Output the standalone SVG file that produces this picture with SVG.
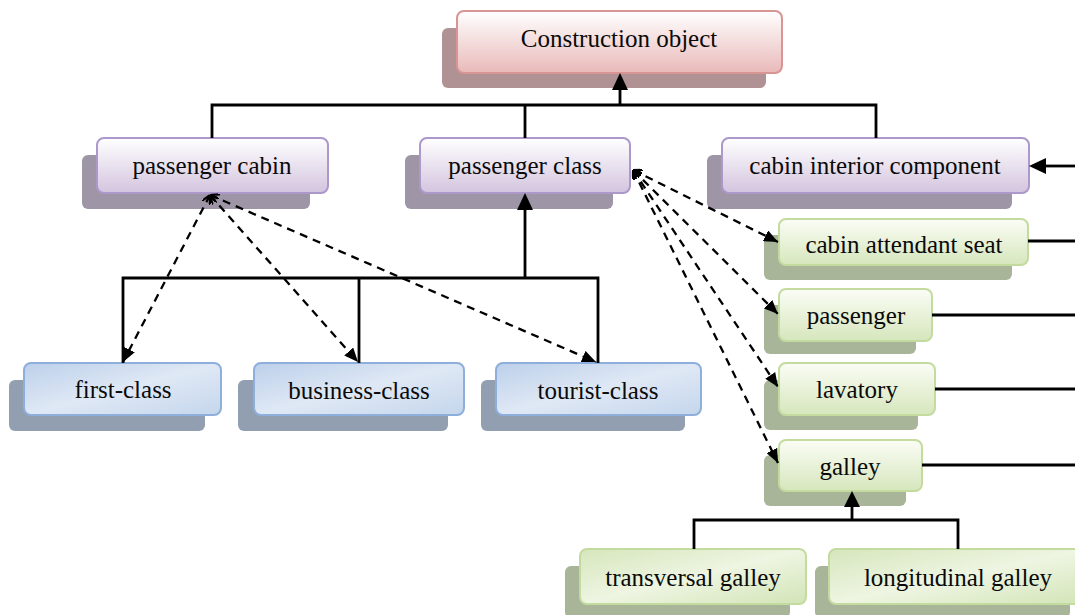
<svg xmlns="http://www.w3.org/2000/svg" width="1075" height="615" viewBox="0 0 1075 615">
  <defs>
    <linearGradient id="gPink" x1="0" y1="0" x2="0" y2="1">
      <stop offset="0" stop-color="#ffffff"/>
      <stop offset="1" stop-color="#e9b9b9"/>
    </linearGradient>
    <linearGradient id="gPurple" x1="0" y1="0" x2="0" y2="1">
      <stop offset="0" stop-color="#ffffff"/>
      <stop offset="1" stop-color="#d3c4de"/>
    </linearGradient>
    <linearGradient id="gBlue" x1="0" y1="0" x2="1" y2="1">
      <stop offset="0" stop-color="#bcd0ea"/>
      <stop offset="0.5" stop-color="#dfe8f5"/>
      <stop offset="1" stop-color="#c4d6ec"/>
    </linearGradient>
    <linearGradient id="gGreen" x1="0" y1="0" x2="0" y2="1">
      <stop offset="0" stop-color="#fbfdf6"/>
      <stop offset="1" stop-color="#d6e6bc"/>
    </linearGradient>
    <linearGradient id="gGreenD" x1="0" y1="0" x2="1" y2="1">
      <stop offset="0" stop-color="#d6e6bc"/>
      <stop offset="0.5" stop-color="#eef5e2"/>
      <stop offset="1" stop-color="#d2e4b6"/>
    </linearGradient>
    <!-- filled head for the dashed links -->
    <marker id="arrD" viewBox="0 0 14 12" refX="14" refY="6" markerWidth="14" markerHeight="12" markerUnits="userSpaceOnUse" orient="auto">
      <path d="M0,0 L14,6 L0,12 Z" fill="#000"/>
    </marker>
    <marker id="tail" viewBox="0 0 10 10" refX="0" refY="5" markerWidth="9" markerHeight="9" markerUnits="userSpaceOnUse" orient="auto">
      <path d="M10,0 L0,5 L10,10" fill="none" stroke="#000" stroke-width="2.5"/>
    </marker>
  </defs>
  <style>
    .pinkS { fill: #b09294; }
    .purS { fill: #9e96a6; }
    .bluS { fill: #929fb0; }
    .grnS { fill: #a8b598; }
    .pink { fill: url(#gPink); stroke: #d99494; stroke-width: 2; }
    .pur { fill: url(#gPurple); stroke: #ad98cb; stroke-width: 2; }
    .blu { fill: url(#gBlue); stroke: #8eaedb; stroke-width: 2; }
    .grn { fill: url(#gGreen); stroke: #c4dba0; stroke-width: 2; }
    .grnD { fill: url(#gGreenD); stroke: #c4dba0; stroke-width: 2; }
    .lbl { font-family: "Liberation Serif", "Times New Roman", serif; font-size: 25px; fill: #0a0a0a; text-anchor: middle; }
    .solid { fill: none; stroke: #000; stroke-width: 2.8; }
    .dash { fill: none; stroke: #000; stroke-width: 2.3; stroke-dasharray: 8 6; }
    .head { fill: #000; }
  </style>

  <g id="construction-object">
    <rect class="pinkS" x="442" y="28" width="324" height="60" rx="6"/>
    <rect class="pink" x="457" y="11" width="325" height="62" rx="7"/>
    <text class="lbl" x="619" y="47">Construction object</text>
  </g>

  <g id="passenger-cabin">
    <rect class="purS" x="82" y="155" width="228" height="54" rx="6"/>
    <rect class="pur" x="97" y="138" width="231" height="55" rx="7"/>
    <text class="lbl" x="212" y="174">passenger cabin</text>
  </g>

  <g id="passenger-class">
    <rect class="purS" x="405" y="155" width="208" height="54" rx="6"/>
    <rect class="pur" x="420" y="138" width="210" height="55" rx="7"/>
    <text class="lbl" x="525" y="174">passenger class</text>
  </g>

  <g id="cabin-interior-component">
    <rect class="purS" x="707" y="155" width="305" height="54" rx="6"/>
    <rect class="pur" x="722" y="138" width="307" height="55" rx="7"/>
    <text class="lbl" x="875" y="174">cabin interior component</text>
  </g>

  <g id="cabin-attendant-seat">
    <rect class="grnS" x="764" y="235" width="248" height="45" rx="6"/>
    <rect class="grn" x="779" y="219" width="249" height="46" rx="7"/>
    <text class="lbl" x="904" y="253">cabin attendant seat</text>
  </g>

  <g id="passenger">
    <rect class="grnS" x="764" y="305" width="152" height="49" rx="6"/>
    <rect class="grn" x="779" y="289" width="153" height="52" rx="7"/>
    <text class="lbl" x="856" y="324">passenger</text>
  </g>

  <g id="lavatory">
    <rect class="grnS" x="764" y="380" width="154" height="50" rx="6"/>
    <rect class="grn" x="779" y="363" width="156" height="52" rx="7"/>
    <text class="lbl" x="857" y="398">lavatory</text>
  </g>

  <g id="galley">
    <rect class="grnS" x="764" y="455" width="142" height="51" rx="6"/>
    <rect class="grn" x="779" y="440" width="143" height="51" rx="7"/>
    <text class="lbl" x="850" y="475">galley</text>
  </g>

  <g id="transversal-galley">
    <rect class="grnS" x="565" y="566" width="225" height="52" rx="6"/>
    <rect class="grnD" x="580" y="549" width="226" height="55" rx="7"/>
    <text class="lbl" x="693" y="586">transversal galley</text>
  </g>

  <g id="longitudinal-galley">
    <rect class="grnS" x="815" y="566" width="255" height="52" rx="6"/>
    <rect class="grnD" x="829" y="549" width="260" height="55" rx="7"/>
    <text class="lbl" x="958" y="586">longitudinal galley</text>
  </g>

  <g id="first-class">
    <rect class="bluS" x="9" y="380" width="196" height="51" rx="6"/>
    <rect class="blu" x="24" y="363" width="197" height="52" rx="7"/>
    <text class="lbl" x="123" y="398">first-class</text>
  </g>

  <g id="business-class">
    <rect class="bluS" x="238" y="380" width="210" height="51" rx="6"/>
    <rect class="blu" x="254" y="363" width="210" height="52" rx="7"/>
    <text class="lbl" x="359" y="399">business-class</text>
  </g>

  <g id="tourist-class">
    <rect class="bluS" x="481" y="380" width="204" height="51" rx="6"/>
    <rect class="blu" x="496" y="363" width="205" height="52" rx="7"/>
    <text class="lbl" x="598" y="399">tourist-class</text>
  </g>

  <!-- connectors, drawn over the node shadows -->
  <g id="connectors">
    <!-- generalisation to Construction object -->
    <path class="solid" d="M212,138 V105 H876 V138 M525,138 V105 M620,106 V88"/>
    <polygon class="head" points="620,73 628,90 612,90"/>
    <!-- passenger class subclasses -->
    <path class="solid" d="M123,363 V278 H598 V363 M359,363 V278 M525,279 V208"/>
    <polygon class="head" points="525,193 533,210 517,210"/>
    <!-- galley subtypes -->
    <path class="solid" d="M694,549 V520 H958 V549 M852,521 V505"/>
    <polygon class="head" points="852,491 860,507 844,507"/>
    <!-- links leaving to the right -->
    <path class="solid" d="M1075,166 H1044"/>
    <polygon class="head" points="1029,166 1046,158 1046,174"/>
    <path class="solid" d="M1028,241 H1075 M932,315 H1075 M935,389 H1075 M922,465 H1075"/>
    <!-- passenger cabin associations -->
    <path class="dash" d="M210,195 L123,362" marker-start="url(#tail)" marker-end="url(#arrD)"/>
    <path class="dash" d="M210,195 L358,362" marker-start="url(#tail)" marker-end="url(#arrD)"/>
    <path class="dash" d="M210,195 L596,362" marker-start="url(#tail)" marker-end="url(#arrD)"/>
    <!-- passenger class associations -->
    <path class="dash" d="M633,170 L778,242" marker-start="url(#tail)" marker-end="url(#arrD)"/>
    <path class="dash" d="M633,170 L778,314" marker-start="url(#tail)" marker-end="url(#arrD)"/>
    <path class="dash" d="M633,170 L778,387" marker-start="url(#tail)" marker-end="url(#arrD)"/>
    <path class="dash" d="M633,170 L778,463" marker-start="url(#tail)" marker-end="url(#arrD)"/>
  </g>
</svg>
